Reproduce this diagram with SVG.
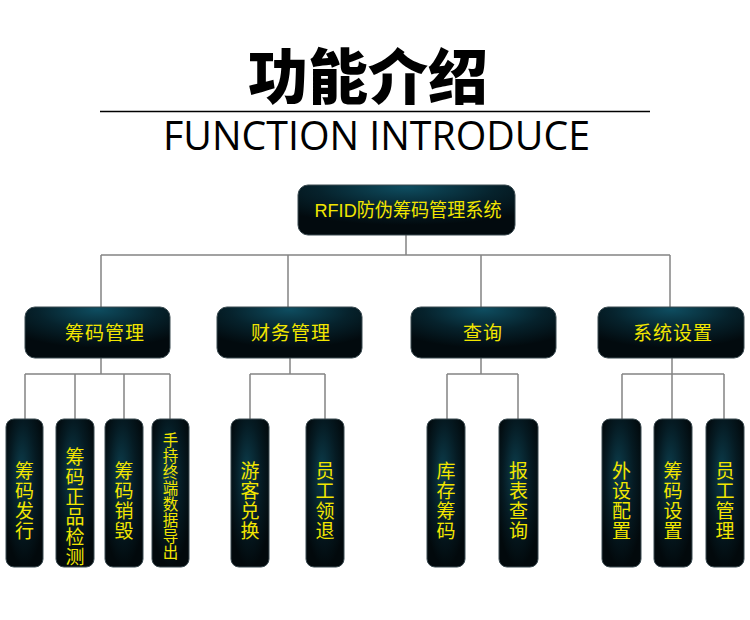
<svg xmlns="http://www.w3.org/2000/svg" width="750" height="620" viewBox="0 0 750 620">
<defs>
<radialGradient id="gWide" cx="0.5" cy="0.05" r="0.75" fx="0.5" fy="0.05">
<stop offset="0" stop-color="#0e4d60"/>
<stop offset="0.55" stop-color="#06222c"/>
<stop offset="1" stop-color="#020a0e"/>
</radialGradient>
<radialGradient id="gTall" cx="0.5" cy="0.4" r="0.6" fx="0.4" fy="0.35">
<stop offset="0" stop-color="#0c3d4c"/>
<stop offset="0.6" stop-color="#051a22"/>
<stop offset="1" stop-color="#02090c"/>
</radialGradient>
<style>
.title{font-family:"Noto Sans CJK SC",sans-serif;font-weight:900;font-size:60px;fill:#000}
.sub{font-family:"Open Sans","DejaVu Sans",sans-serif;font-weight:400;font-size:40px;fill:#000}
.wide{fill:url(#gWide);stroke:#3a4a50;stroke-width:1}
.tall{fill:url(#gTall);stroke:#3a4a50;stroke-width:1}
.lbl{font-family:"Liberation Sans","Noto Sans CJK SC",sans-serif;font-size:19px;fill:#f2e600;text-anchor:middle}
.vl{font-family:"Noto Sans CJK SC",sans-serif;font-size:19px;fill:#f2e600;text-anchor:middle}
.vs{font-family:"Noto Sans CJK SC",sans-serif;font-size:15.5px;fill:#f2e600;text-anchor:middle}
.edge{stroke:#848484;stroke-width:1.5;fill:none}
</style>
</defs>
<rect width="750" height="620" fill="#fff"/>
<g id="header">
<text class="title" x="368" y="99" text-anchor="middle">功能介绍</text>
<line x1="100" y1="111.5" x2="650" y2="111.5" stroke="#000" stroke-width="1.5"/>
<text class="sub" x="163" y="150" textLength="427" lengthAdjust="spacingAndGlyphs">FUNCTION INTRODUCE</text>
</g>
<g id="connectors" class="edge">
<path d="M406 235V255M101 255H670M101 255V307M288 255V307M481 255V307M670 255V307"/>
<path d="M101 358V374M25 374H170M25 374V419M75 374V419M124 374V419M170 374V419"/>
<path d="M290 358V374M250 374H325M250 374V419M325 374V419"/>
<path d="M481 358V374M447 374H518M447 374V419M518 374V419"/>
<path d="M672 358V419M622 374H724M622 374V419M724 374V419"/>
</g>
<g id="root">
<rect class="wide" x="298" y="185" width="217" height="50" rx="10"/>
<text class="lbl" x="408" y="217" font-size="18" textLength="187" lengthAdjust="spacingAndGlyphs">RFID防伪筹码管理系统</text>
</g>
<g id="n-chouma">
<rect class="wide" x="25" y="307" width="145" height="51" rx="10"/>
<text class="lbl" x="105" y="340" letter-spacing="1">筹码管理</text>
</g>
<g id="n-caiwu">
<rect class="wide" x="217" y="307" width="145" height="51" rx="10"/>
<text class="lbl" x="291" y="340" letter-spacing="1">财务管理</text>
</g>
<g id="n-chaxun">
<rect class="wide" x="411" y="307" width="145" height="51" rx="10"/>
<text class="lbl" x="483" y="340" letter-spacing="1">查询</text>
</g>
<g id="n-xitong">
<rect class="wide" x="598" y="307" width="146" height="51" rx="10"/>
<text class="lbl" x="673" y="340" letter-spacing="1">系统设置</text>
</g>
<g id="l-fahang">
<rect class="tall" x="6" y="419" width="37" height="148" rx="8"/>
<text class="vl" x="24.5" y="478">筹</text><text class="vl" x="24.5" y="498">码</text><text class="vl" x="24.5" y="518">发</text><text class="vl" x="24.5" y="538">行</text>
</g>
<g id="l-jiance">
<rect class="tall" x="56" y="419" width="38" height="148" rx="8"/>
<text class="vl" x="75" y="464">筹</text><text class="vl" x="75" y="484">码</text><text class="vl" x="75" y="504">正</text><text class="vl" x="75" y="524">品</text><text class="vl" x="75" y="544">检</text><text class="vl" x="75" y="564">测</text>
</g>
<g id="l-xiaohui">
<rect class="tall" x="105" y="419" width="38" height="148" rx="8"/>
<text class="vl" x="124" y="478">筹</text><text class="vl" x="124" y="498">码</text><text class="vl" x="124" y="518">销</text><text class="vl" x="124" y="538">毁</text>
</g>
<g id="l-daochu">
<rect class="tall" x="152" y="419" width="37" height="148" rx="8"/>
<text class="vs" x="170.5" y="446">手</text><text class="vs" x="170.5" y="462">持</text><text class="vs" x="170.5" y="478">终</text><text class="vs" x="170.5" y="494">端</text><text class="vs" x="170.5" y="510">数</text><text class="vs" x="170.5" y="526">据</text><text class="vs" x="170.5" y="542">导</text><text class="vs" x="170.5" y="558">出</text>
</g>
<g id="l-duihuan">
<rect class="tall" x="231" y="419" width="38" height="148" rx="8"/>
<text class="vl" x="250" y="478">游</text><text class="vl" x="250" y="498">客</text><text class="vl" x="250" y="518">兑</text><text class="vl" x="250" y="538">换</text>
</g>
<g id="l-lingtui">
<rect class="tall" x="306" y="419" width="38" height="148" rx="8"/>
<text class="vl" x="325" y="478">员</text><text class="vl" x="325" y="498">工</text><text class="vl" x="325" y="518">领</text><text class="vl" x="325" y="538">退</text>
</g>
<g id="l-kucun">
<rect class="tall" x="427" y="419" width="38" height="148" rx="8"/>
<text class="vl" x="446" y="478">库</text><text class="vl" x="446" y="498">存</text><text class="vl" x="446" y="518">筹</text><text class="vl" x="446" y="538">码</text>
</g>
<g id="l-baobiao">
<rect class="tall" x="499" y="419" width="39" height="148" rx="8"/>
<text class="vl" x="518.5" y="478">报</text><text class="vl" x="518.5" y="498">表</text><text class="vl" x="518.5" y="518">查</text><text class="vl" x="518.5" y="538">询</text>
</g>
<g id="l-waishe">
<rect class="tall" x="602" y="419" width="39" height="148" rx="8"/>
<text class="vl" x="621.5" y="478">外</text><text class="vl" x="621.5" y="498">设</text><text class="vl" x="621.5" y="518">配</text><text class="vl" x="621.5" y="538">置</text>
</g>
<g id="l-choumashezhi">
<rect class="tall" x="654" y="419" width="38" height="148" rx="8"/>
<text class="vl" x="673" y="478">筹</text><text class="vl" x="673" y="498">码</text><text class="vl" x="673" y="518">设</text><text class="vl" x="673" y="538">置</text>
</g>
<g id="l-yuangong">
<rect class="tall" x="706" y="419" width="38" height="148" rx="8"/>
<text class="vl" x="725" y="478">员</text><text class="vl" x="725" y="498">工</text><text class="vl" x="725" y="518">管</text><text class="vl" x="725" y="538">理</text>
</g>
</svg>
